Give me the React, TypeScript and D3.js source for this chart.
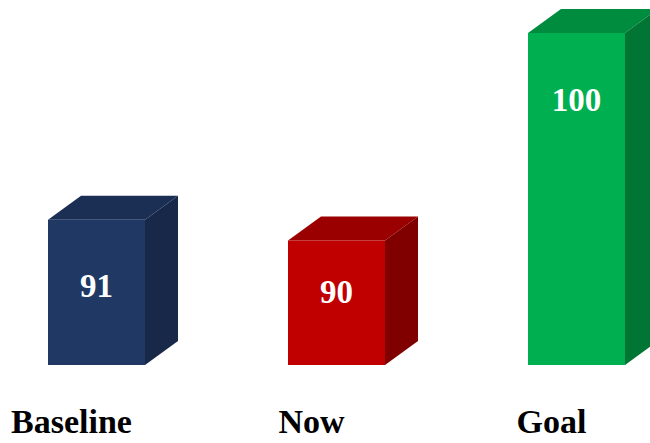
import React from "react";
import * as d3 from "d3";

const categories = ["Baseline", "Now", "Goal"];
const values = [91, 90, 100];
const frontColors = ["#203864", "#C00000", "#00B050"];
const topColors = ["#1B2F55", "#9A0000", "#008C3F"];
const sideColors = ["#172849", "#800000", "#007534"];

const W = 650;
const H = 443;
const depthX = 33;
const depthY = 24;
const barW = 97;

export default function App() {
  const x = d3.scalePoint<string>().domain(categories).range([96.5, 576.5]);
  const y = d3.scaleLinear().domain([84, 100]).range([365, 33]);
  const base = y(84);

  return (
    <div style={{ position: "absolute", left: 0, top: 0 }}>
      <svg width={W} height={H} style={{ display: "block", background: "#fff" }}>
        {categories.map((c, i) => {
          const cx = x(c) as number;
          const x0 = cx - barW / 2;
          const x1 = cx + barW / 2;
          const yt = y(values[i]);
          const top = `M${x0},${yt} L${x0 + depthX},${yt - depthY} L${x1 + depthX},${yt - depthY} L${x1},${yt} Z`;
          const side = `M${x1},${yt} L${x1 + depthX},${yt - depthY} L${x1 + depthX},${base - depthY} L${x1},${base} Z`;
          const labelY = Math.min(yt + 66, 291);
          return (
            <g key={c}>
              <path d={top} fill={topColors[i]} />
              <path d={side} fill={sideColors[i]} />
              <rect x={x0} y={yt} width={barW} height={base - yt} fill={frontColors[i]} />
              <text
                x={cx}
                y={labelY + 11.5}
                textAnchor="middle"
                fill="#fff"
                fontFamily="'Liberation Serif', 'Times New Roman', serif"
                fontWeight="bold"
                fontSize={33}
              >
                {values[i]}
              </text>
              <text
                x={cx - 25}
                y={433}
                textAnchor="middle"
                fill="#000"
                fontFamily="'Liberation Serif', 'Times New Roman', serif"
                fontWeight="bold"
                fontSize={34}
              >
                {c}
              </text>
            </g>
          );
        })}
      </svg>
    </div>
  );
}
